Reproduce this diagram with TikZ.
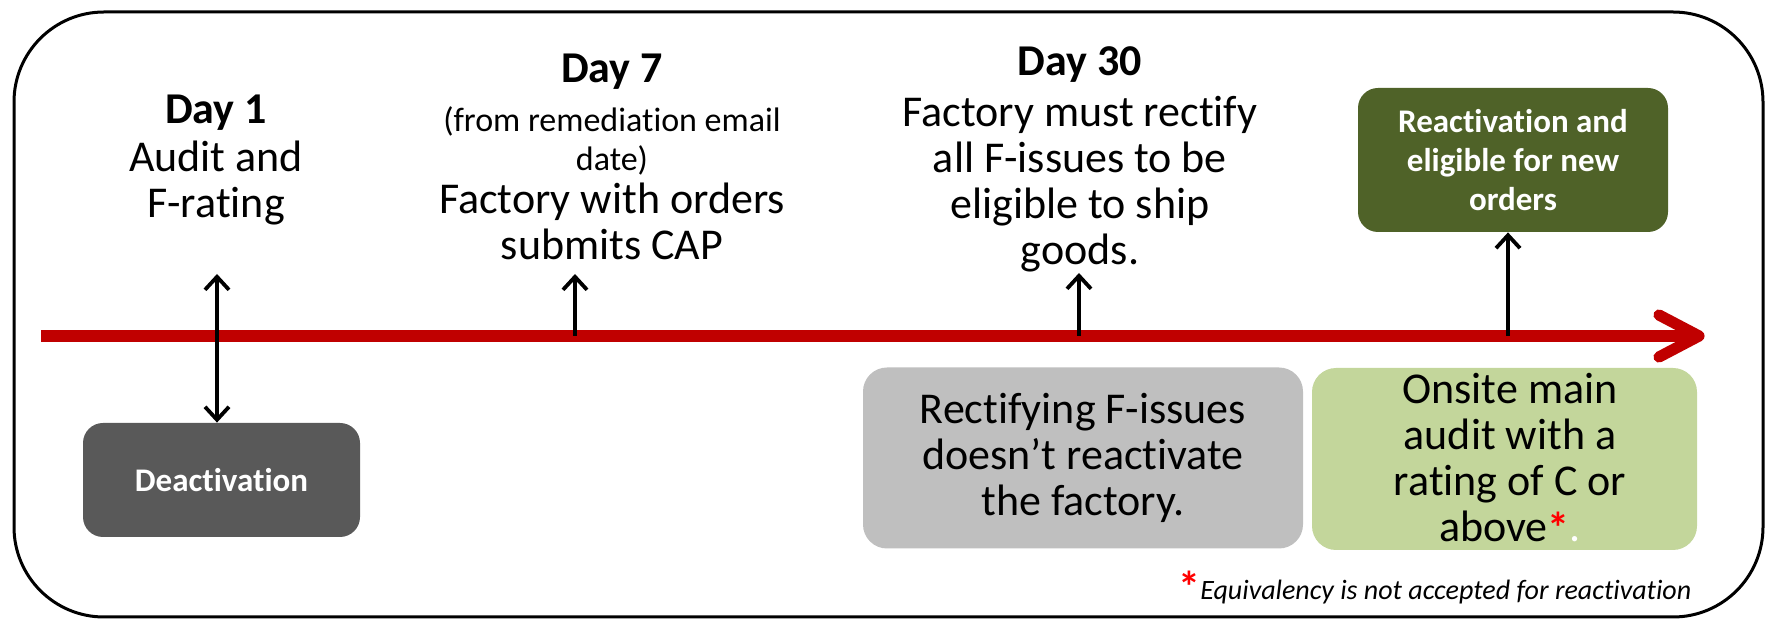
\documentclass[tikz,border=0pt]{standalone}
\usepackage{fontspec}
\setmainfont{Carlito}[Ligatures={NoCommon}]
\usetikzlibrary{arrows.meta}
\definecolor{tlred}{HTML}{C00000}
\definecolor{dkgreen}{HTML}{4F6228}
\definecolor{dkgray}{HTML}{595959}
\definecolor{ltgray}{HTML}{BFBFBF}
\definecolor{ltgreen}{HTML}{C3D69B}
\definecolor{starred}{HTML}{FF0000}
\begin{document}
\begin{tikzpicture}[x=0.5pt,y=-0.5pt,
  txt/.style={align=center, inner sep=0pt, font=\fontsize{22pt}{23pt}\selectfont},
  hd/.style={inner sep=0pt, font=\bfseries\fontsize{22pt}{23pt}\selectfont},
  smalltxt/.style={align=center, inner sep=0pt, font=\fontsize{17pt}{19.5pt}\selectfont},
  boxw/.style={align=center, inner sep=0pt, rounded corners=10pt, text=white,
    font=\bfseries\fontsize{16.5pt}{19.5pt}\selectfont},
  boxb/.style={align=center, inner sep=0pt, rounded corners=12pt, text=black,
    font=\fontsize{22pt}{23pt}\selectfont},
  tip/.style={},
  arr/.style={line width=1.9pt, -{Straight Barb[length=6.5pt,width=12pt]}},
  darr/.style={line width=1.9pt, {Straight Barb[length=6.5pt,width=12pt]}-{Straight Barb[length=6.5pt,width=12pt]}},
  tl/.style={line width=5.6pt, draw=tlred},
  frame/.style={line width=1.5pt, rounded corners=45pt}
]
\useasboundingbox (0,0) rectangle (1767,619);
% outer frame
\draw[frame] (14,12) rectangle (1763,617);

% timeline
\coordinate (ls) at (41,336);
\coordinate (le) at (1699,336);
\coordinate (hu) at (1659,315);
\coordinate (hd) at (1659,357);
\draw[tl] (ls) -- (le);
\draw[tl, line cap=round, line join=round] (hu) -- (le) -- (hd);

% Day 1
\node[hd] (d1h) at (216,113) {Day 1};
\node[txt] (d1b) at (216,183) {Audit and\\F-rating};
\node[boxw, fill=dkgray, minimum width=138.5pt, minimum height=57pt] (deact) at (221.5,480) {Deactivation};

% Day 7
\node[hd] (d7h) at (612,72) {Day 7};
\node[smalltxt] (d7s) at (612,141) {(from remediation email\\date)};
\node[txt] (d7b) at (612,221) {Factory with orders\\submits CAP};

% Day 30
\node[hd] (d30h) at (1080,65) {Day 30};
\node[txt] (d30b) at (1080,184) {Factory must rectify\\all F-issues to be\\eligible to ship\\goods.};

% boxes
\node[boxw, fill=dkgreen, minimum width=155pt, minimum height=72pt] (react) at (1513,160) {Reactivation and\\eligible for new\\orders};
\node[boxb, fill=ltgray, minimum width=220pt, minimum height=90.5pt] (rectif) at (1083,458) {Rectifying F-issues\\doesn’t reactivate\\the factory.};
\node[boxb, fill=ltgreen, minimum width=192.5pt, minimum height=91pt] (onsite) at (1504.5,459) {};
\node[txt] (onsitet) at (1510,458) {Onsite main\\audit with a\\rating of C or\\above\textcolor{starred}{\bfseries\raisebox{-1pt}{*}}\textcolor{white}{.}};

% connectors
\coordinate (a1) at (217,274);
\coordinate (t7) at (575,336);
\coordinate (a7) at (575,274);
\coordinate (t30) at (1079,336);
\coordinate (a30) at (1079,273);
\coordinate (t4) at (1508,336);
\draw[darr] (a1) -- (a1 |- deact.north);
\draw[arr] (t7) -- (a7);
\draw[arr] (t30) -- (a30);
\draw[arr] (t4) -- (t4 |- react.south);

% footnote
\node[inner sep=0pt, text=starred, font=\bfseries\fontsize{22pt}{22pt}\selectfont] (fstar) at (1189,587) {*};
\node[inner sep=0pt, anchor=base west, font=\itshape\fontsize{14pt}{14pt}\selectfont] (fnote) at (1200,600) {Equivalency is not accepted for reactivation};
\end{tikzpicture}
\end{document}
